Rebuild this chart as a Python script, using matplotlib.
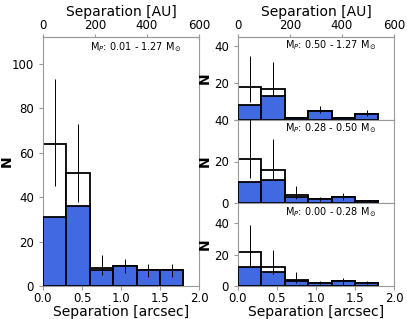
import matplotlib
matplotlib.use("Agg")
import matplotlib.pyplot as plt
import numpy as np

plt.rcParams.update({
    "font.family": "DejaVu Sans", "font.size": 8.5,
    "axes.edgecolor": "0.6", "xtick.color": "0.6", "ytick.color": "0.6",
    "xtick.labelcolor": "black", "ytick.labelcolor": "black",
    "xtick.major.size": 3, "ytick.major.size": 3,
})
BLUE = "#4169E1"

edges = [0.0, 0.3, 0.6, 0.9, 1.2, 1.5, 1.8]

# all primaries
all_tot = [64, 51, 8, 9, 7, 7]
all_det = [31, 36, 7, 9, 7, 7]
all_lo = [45, 38, 5, 6, 4, 4]
all_hi = [93, 73, 14, 12, 10, 10]

# 0.50 - 1.27 Msun
hi_tot = [18, 17, 1, 5, 1, 3]
hi_det = [8, 13, 1, 5, 1, 3]
hi_lo = [9.5, 13, 1, 4, 1, 2]
hi_hi = [34.5, 31.5, 1, 7.5, 1, 5.3]

# 0.28 - 0.50 Msun
md_tot = [21, 16, 4, 2, 3, 1]
md_det = [10, 11, 3, 2, 3, 1]
md_lo = [12, 11.5, 2, 1, 1.5, 0.5]
md_hi = [44, 31, 8, 3, 4.7, 1.5]

# 0.00 - 0.28 Msun
lo_tot = [22, 12, 4, 2, 3, 2]
lo_det = [12, 9, 3, 2, 3, 2]
lo_lo = [12.5, 7.6, 2, 1, 0.5, 1]
lo_hi = [39, 22.7, 8.9, 3, 5.1, 3]

labels = [r"M$_P$: 0.01 - 1.27 M$_\odot$", r"M$_P$: 0.50 - 1.27 M$_\odot$",
          r"M$_P$: 0.28 - 0.50 M$_\odot$", r"M$_P$: 0.00 - 0.28 M$_\odot$"]

W, H = 407, 319
fig = plt.figure(figsize=(W / 100, H / 100), dpi=100)


def box(x0, y0, x1, y1):  # pixel box -> figure fraction
    return [x0 / W, 1 - y1 / H, (x1 - x0) / W, (y1 - y0) / H]


def hist_panel(ax, tot, det, lo, hi, ymax, label, ly):
    e = np.array(edges)
    w = np.diff(e)
    c = e[:-1] + w / 2
    ax.bar(e[:-1], tot, width=w, align="edge", color="white", edgecolor="black", lw=1.3, zorder=2)
    ax.bar(e[:-1], det, width=w, align="edge", color=BLUE, edgecolor="black", lw=1.3, zorder=3)
    ax.vlines(c, lo, hi, color="black", lw=0.7, zorder=4)
    ax.set_xlim(0, 2.0)
    ax.set_ylim(0, ymax)
    ax.set_xticks([0, 0.5, 1.0, 1.5, 2.0])
    ax.text(0.595, ly, label, transform=ax.transAxes, ha="center", va="center", fontsize=7)
    ax.set_ylabel("N", fontsize=10, fontweight="bold", labelpad=2)


def au_axis(ax):
    sec = ax.secondary_xaxis("top", functions=(lambda x: x * 300, lambda x: x / 300))
    sec.set_xticks([0, 200, 400, 600])
    sec.set_xlabel("Separation [AU]", fontsize=10, labelpad=2)
    sec.tick_params(length=2, pad=1.5)


axL = fig.add_axes(box(43, 37, 199, 286))
hist_panel(axL, all_tot, all_det, all_lo, all_hi, 112, labels[0], 0.96)
axL.set_yticks([0, 20, 40, 60, 80, 100])
axL.set_xlabel("Separation [arcsec]", fontsize=10, labelpad=0)
axL.yaxis.set_label_coords(-0.19, 0.5)
axL.tick_params(axis="x", pad=1)
au_axis(axL)

ax1 = fig.add_axes(box(238, 37, 394, 120))
ax2 = fig.add_axes(box(238, 120, 394, 203))
ax3 = fig.add_axes(box(238, 203, 394, 286))
hist_panel(ax1, hi_tot, hi_det, hi_lo, hi_hi, 45, labels[1], 0.90)
hist_panel(ax2, md_tot, md_det, md_lo, md_hi, 40, labels[2], 0.905)
hist_panel(ax3, lo_tot, lo_det, lo_lo, lo_hi, 53, labels[3], 0.885)
for a in (ax1, ax2, ax3):
    a.set_yticks([0, 20, 40])
ax1.set_yticklabels(["", "20", "40"])  # middle panel's 40 sits on this 0
for a in (ax1, ax2):
    a.tick_params(axis="x", labelbottom=False, length=0)
ax3.set_xlabel("Separation [arcsec]", fontsize=10, labelpad=0)
ax3.tick_params(axis="x", pad=1)
au_axis(ax1)

fig.savefig("out.png", dpi=100)
